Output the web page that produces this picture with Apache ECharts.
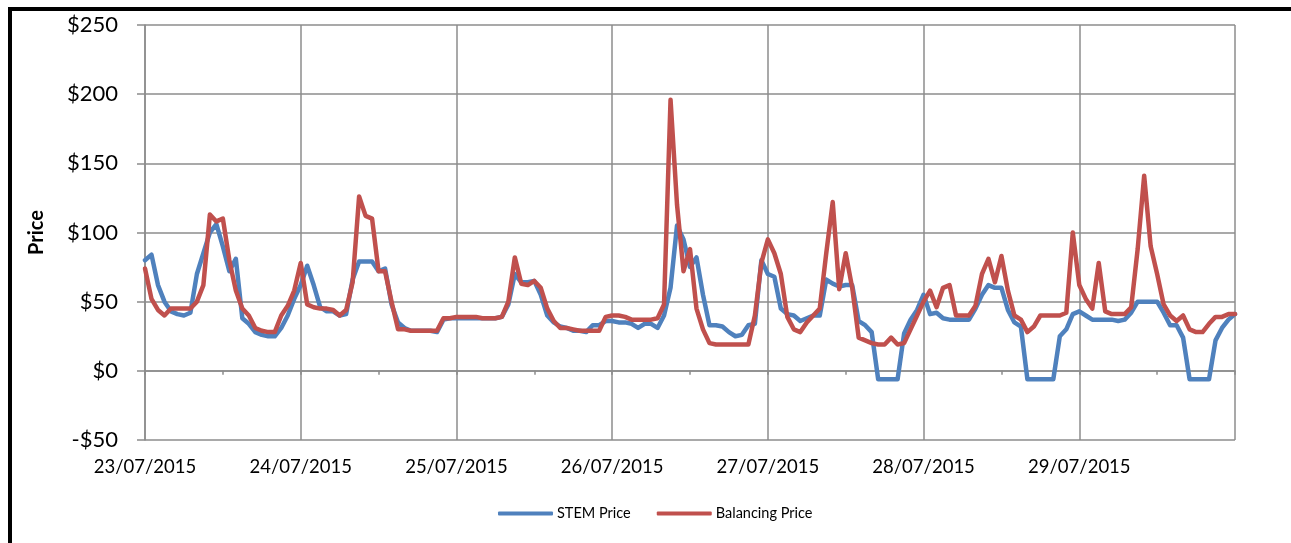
<!DOCTYPE html>
<html><head><meta charset="utf-8">
<script src="https://cdn.jsdelivr.net/npm/echarts@6/dist/echarts.min.js"></script>
<style>html,body{margin:0;padding:0;background:#fff;}#c{width:1291px;height:543px;}</style>
</head><body><div id="c"></div>
<script>
// hourly values, 23/07/2015 00:00 .. 30/07/2015 00:00
const dayLabels = ['23/07/2015','24/07/2015','25/07/2015','26/07/2015','27/07/2015','28/07/2015','29/07/2015'];
const hours = [];
for (let i = 0; i <= 168; i++) hours.push(i);

const stemPrice = [
  80,84,62,50,43,41,40,42,70,85,100,106,90,72,81,38,34,28,26,25,25,31,40,52,
  62,76,62,46,43,43,40,41,66,79,79,79,72,74,48,35,31,29,29,29,29,28,37,38,
  38,38,38,38,38,38,38,39,48,70,64,64,65,55,40,35,32,31,29,29,28,33,33,36,
  36,35,35,34,31,34,34,31,40,60,105,95,75,82,55,33,33,32,28,25,26,33,34,80,
  70,68,45,41,40,36,38,40,40,66,63,61,62,62,36,33,28,-6,-6,-6,-6,27,37,44,
  55,41,42,38,37,37,37,37,45,55,62,60,60,44,35,32,-6,-6,-6,-6,-6,25,30,41,
  43,40,37,37,37,37,36,37,42,50,50,50,50,42,33,33,24,-6,-6,-6,-6,22,31,37,41
];
const balancingPrice = [
  74,52,44,40,45,45,45,45,50,62,113,108,110,80,58,45,40,31,29,28,28,40,47,58,
  78,48,46,45,45,44,40,44,64,126,112,110,72,72,50,30,30,29,29,29,29,29,38,38,
  39,39,39,39,38,38,38,39,50,82,63,62,65,60,45,36,31,31,30,29,29,29,29,39,
  40,40,39,37,37,37,37,38,48,196,120,72,88,45,30,20,19,19,19,19,19,19,40,78,
  95,85,70,39,30,28,35,40,45,85,122,59,85,60,24,22,20,19,19,24,19,20,30,40,
  50,58,46,60,62,40,40,40,47,70,81,64,83,58,40,37,28,32,40,40,40,40,42,100,
  62,52,45,78,43,41,41,41,46,88,141,90,70,48,40,36,40,30,28,28,34,39,39,41,41
];

const chart = echarts.init(document.getElementById('c'), null, {renderer:'canvas'});
const FONT = 'Lato';
const GRID = '#8c8c8c';
chart.setOption({
  animation: false,
  textStyle: {fontFamily: FONT},
  grid: {left: 145, right: 56, top: 25, bottom: 103},
  legend: {
    bottom: 22, left: 498, padding: 0, itemWidth: 55, itemHeight: 4, itemGap: 26,
    textStyle: {fontFamily: FONT, fontSize: 14.5, color: '#000', padding: [0, 0, 0, -1]},
    data: [{name: 'STEM Price', icon: 'roundRect'}, {name: 'Balancing Price', icon: 'roundRect'}]
  },
  xAxis: [{
    type: 'category', data: hours, boundaryGap: false, position: 'bottom',
    axisLine: {show: false, onZero: false},
    axisTick: {show: false},
    axisLabel: {
      interval: 0, margin: 18, fontSize: 18.5, color: '#000', fontFamily: FONT,
      formatter: (v, i) => (i % 24 === 0 && i < 168) ? dayLabels[i / 24] : ''
    },
    splitLine: {show: true, interval: (i) => i % 24 === 0, lineStyle: {color: GRID, width: 1.5}}
  }, {
    type: 'category', data: hours, boundaryGap: false, position: 'top',
    axisLine: {show: true, onZero: true, lineStyle: {color: GRID, width: 1.5}},
    axisTick: {show: true, inside: true, interval: (i) => i % 12 === 0, length: 4, lineStyle: {color: GRID, width: 1.5}},
    axisLabel: {show: false}, splitLine: {show: false}
  }],
  yAxis: {
    type: 'value', min: -50, max: 250, interval: 50,
    name: 'Price', nameLocation: 'middle', nameGap: 98, nameRotate: 90,
    nameTextStyle: {fontFamily: FONT, fontSize: 20, fontWeight: 'bold', color: '#000'},
    axisLine: {show: true, lineStyle: {color: GRID, width: 1.5}},
    axisTick: {show: true, length: 8, lineStyle: {color: GRID, width: 1.5}},
    axisLabel: {margin: 27, fontSize: 22, color: '#000', fontFamily: FONT,
      formatter: v => v < 0 ? '-$' + Math.abs(v) : '$' + v},
    splitLine: {show: true, lineStyle: {color: GRID, width: 1.5}}
  },
  series: [{
    name: 'STEM Price', type: 'line', data: stemPrice, symbol: 'none', xAxisIndex: 0,
    lineStyle: {color: '#4F81BD', width: 4.5, cap: 'round', join: 'round'}, itemStyle: {color: '#4F81BD'}
  }, {
    name: 'Balancing Price', type: 'line', data: balancingPrice, symbol: 'none', xAxisIndex: 0,
    lineStyle: {color: '#C0504D', width: 4.5, cap: 'round', join: 'round'}, itemStyle: {color: '#C0504D'}
  }],
  graphic: [
    {type: 'line', shape: {x1: 8, y1: 9, x2: 1291, y2: 9}, style: {stroke: '#000', lineWidth: 4}, silent: true},
    {type: 'line', shape: {x1: 10, y1: 7, x2: 10, y2: 543}, style: {stroke: '#000', lineWidth: 4}, silent: true}
  ]
});
</script></body></html>
